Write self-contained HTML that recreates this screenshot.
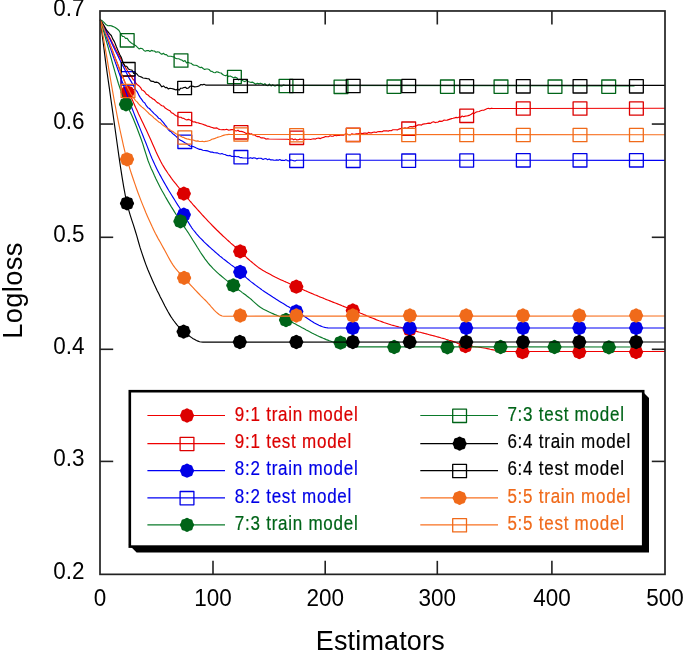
<!DOCTYPE html>
<html><head><meta charset="utf-8"><style>
html,body{margin:0;padding:0;background:#fff;overflow:hidden}
svg{display:block;filter:blur(0.4px);font-family:"Liberation Sans",sans-serif}
</style></head><body>
<svg width="685" height="653" viewBox="0 0 685 653">
<rect width="685" height="653" fill="#fff"/>
<g><path d="M100.3,19.8 L101.8,23.6 L103.4,27.5 L104.9,31.4 L106.4,35.3 L108.0,39.2 L109.5,43.1 L111.0,47.0 L112.6,51.0 L114.1,54.9 L115.6,58.8 L117.2,62.7 L118.7,66.6 L120.2,70.5 L121.7,74.3 L123.3,78.2 L124.8,81.9 L126.3,85.7 L127.9,89.4 L129.4,93.1 L130.9,96.7 L132.5,100.3 L134.0,103.8 L135.5,107.3 L137.1,110.6 L138.6,113.9 L140.2,117.2 L141.7,120.4 L143.2,123.6 L144.8,126.9 L146.3,130.1 L147.9,133.5 L149.5,137.0 L151.1,140.6 L152.7,144.2 L154.3,147.8 L155.8,151.3 L157.4,154.7 L159.0,158.0 L160.6,161.2 L162.2,164.2 L163.8,166.9 L165.3,169.4 L166.9,171.7 L168.4,174.0 L170.0,176.2 L171.5,178.3 L173.0,180.3 L174.6,182.3 L176.1,184.2 L177.6,186.1 L179.2,188.0 L180.7,189.9 L182.3,191.7 L183.8,193.6 L185.3,195.4 L186.8,197.2 L188.3,199.0 L189.8,200.8 L191.3,202.5 L192.8,204.3 L194.3,206.0 L195.8,207.7 L197.3,209.4 L198.8,211.0 L200.3,212.7 L201.8,214.4 L203.3,216.0 L204.8,217.6 L206.3,219.2 L207.8,220.8 L209.3,222.4 L210.8,223.9 L212.3,225.5 L213.8,227.0 L215.3,228.5 L216.8,230.0 L218.4,231.5 L219.9,233.0 L221.5,234.5 L223.0,236.0 L224.6,237.4 L226.2,238.9 L227.7,240.3 L229.3,241.7 L230.8,243.1 L232.4,244.5 L234.0,245.8 L235.5,247.2 L237.1,248.6 L238.6,250.1 L240.2,251.5 L241.8,253.0 L243.5,254.6 L245.1,256.1 L246.7,257.7 L248.4,259.2 L250.0,260.6 L251.7,262.0 L253.3,263.4 L255.0,264.8 L256.7,266.1 L258.3,267.4 L260.0,268.5 L261.5,269.5 L263.0,270.4 L264.5,271.3 L266.1,272.2 L267.6,273.0 L269.1,273.8 L270.6,274.6 L272.1,275.4 L273.6,276.2 L275.1,277.0 L276.6,277.7 L278.1,278.4 L279.7,279.2 L281.2,279.9 L282.7,280.6 L284.2,281.3 L285.7,281.9 L287.2,282.6 L288.7,283.3 L290.2,284.0 L291.8,284.7 L293.3,285.3 L294.8,286.0 L296.3,286.7 L297.8,287.4 L299.4,288.1 L300.9,288.8 L302.4,289.4 L303.9,290.1 L305.5,290.8 L307.0,291.4 L308.5,292.1 L310.0,292.7 L311.6,293.4 L313.1,294.0 L314.6,294.7 L316.2,295.3 L317.7,295.9 L319.2,296.6 L320.7,297.2 L322.3,297.8 L323.8,298.4 L325.3,299.1 L326.8,299.7 L328.4,300.3 L329.9,300.9 L331.4,301.5 L332.9,302.1 L334.5,302.7 L336.0,303.3 L337.5,303.9 L339.1,304.5 L340.6,305.1 L342.1,305.8 L343.6,306.4 L345.2,307.0 L346.7,307.6 L348.2,308.2 L349.7,308.8 L351.3,309.4 L352.8,310.0 L354.4,310.6 L355.9,311.3 L357.4,311.9 L359.0,312.5 L360.6,313.2 L362.1,313.8 L363.7,314.5 L365.2,315.1 L366.8,315.8 L368.3,316.4 L369.9,317.1 L371.4,317.7 L372.9,318.3 L374.5,318.9 L376.1,319.6 L377.6,320.2 L379.1,320.8 L380.7,321.3 L382.2,321.9 L383.8,322.5 L385.4,323.0 L386.9,323.5 L388.4,324.0 L390.0,324.5 L391.5,325.0 L393.0,325.4 L394.5,325.8 L396.1,326.2 L397.6,326.6 L399.1,327.0 L400.6,327.3 L402.1,327.7 L403.6,328.1 L405.2,328.4 L406.7,328.8 L408.2,329.2 L409.7,329.6 L411.2,330.0 L412.7,330.4 L414.2,330.8 L415.7,331.2 L417.3,331.6 L418.8,332.0 L420.3,332.3 L421.8,332.7 L423.3,333.1 L424.8,333.5 L426.3,333.9 L427.8,334.3 L429.3,334.7 L430.8,335.1 L432.4,335.5 L433.9,335.9 L435.4,336.3 L436.9,336.7 L438.4,337.1 L439.9,337.5 L441.4,338.0 L442.9,338.4 L444.4,338.8 L445.9,339.3 L447.5,339.7 L449.0,340.2 L450.5,340.6 L452.0,341.1 L453.5,341.6 L455.0,342.1 L456.5,342.8 L458.0,343.4 L459.5,344.1 L461.0,344.7 L462.5,345.3 L464.0,345.7 L465.5,346.0 L467.0,346.2 L468.5,346.3 L470.0,346.4 L471.6,346.5 L473.1,346.6 L474.6,346.7 L476.1,346.9 L477.6,347.0 L479.2,347.2 L480.8,347.4 L482.3,347.7 L483.9,348.0 L485.5,348.3 L487.1,348.6 L488.6,348.9 L490.2,349.3 L491.8,349.6 L493.4,349.9 L495.0,350.3 L496.5,350.6 L498.1,350.8 L499.7,351.0 L501.3,351.2 L502.8,351.4 L504.4,351.5 L506.0,351.5 L665.0,351.5" fill="none" stroke="#f00000" stroke-width="1.15" stroke-linejoin="round"/><polygon transform="translate(127.60,92.50)" points="7.15,0.00 6.67,1.33 5.96,2.47 5.65,3.78 5.06,5.06 3.78,5.65 2.47,5.96 1.33,6.67 0.00,7.15 -1.33,6.67 -2.47,5.96 -3.78,5.65 -5.06,5.06 -5.65,3.78 -5.96,2.47 -6.67,1.33 -7.15,0.00 -6.67,-1.33 -5.96,-2.47 -5.65,-3.78 -5.06,-5.06 -3.78,-5.65 -2.47,-5.96 -1.33,-6.67 -0.00,-7.15 1.33,-6.67 2.47,-5.96 3.78,-5.65 5.06,-5.06 5.65,-3.78 5.96,-2.47 6.67,-1.33" fill="#dc0000"/><polygon transform="translate(183.80,193.60)" points="7.15,0.00 6.67,1.33 5.96,2.47 5.65,3.78 5.06,5.06 3.78,5.65 2.47,5.96 1.33,6.67 0.00,7.15 -1.33,6.67 -2.47,5.96 -3.78,5.65 -5.06,5.06 -5.65,3.78 -5.96,2.47 -6.67,1.33 -7.15,0.00 -6.67,-1.33 -5.96,-2.47 -5.65,-3.78 -5.06,-5.06 -3.78,-5.65 -2.47,-5.96 -1.33,-6.67 -0.00,-7.15 1.33,-6.67 2.47,-5.96 3.78,-5.65 5.06,-5.06 5.65,-3.78 5.96,-2.47 6.67,-1.33" fill="#dc0000"/><polygon transform="translate(240.20,251.40)" points="7.15,0.00 6.67,1.33 5.96,2.47 5.65,3.78 5.06,5.06 3.78,5.65 2.47,5.96 1.33,6.67 0.00,7.15 -1.33,6.67 -2.47,5.96 -3.78,5.65 -5.06,5.06 -5.65,3.78 -5.96,2.47 -6.67,1.33 -7.15,0.00 -6.67,-1.33 -5.96,-2.47 -5.65,-3.78 -5.06,-5.06 -3.78,-5.65 -2.47,-5.96 -1.33,-6.67 -0.00,-7.15 1.33,-6.67 2.47,-5.96 3.78,-5.65 5.06,-5.06 5.65,-3.78 5.96,-2.47 6.67,-1.33" fill="#dc0000"/><polygon transform="translate(296.30,286.70)" points="7.15,0.00 6.67,1.33 5.96,2.47 5.65,3.78 5.06,5.06 3.78,5.65 2.47,5.96 1.33,6.67 0.00,7.15 -1.33,6.67 -2.47,5.96 -3.78,5.65 -5.06,5.06 -5.65,3.78 -5.96,2.47 -6.67,1.33 -7.15,0.00 -6.67,-1.33 -5.96,-2.47 -5.65,-3.78 -5.06,-5.06 -3.78,-5.65 -2.47,-5.96 -1.33,-6.67 -0.00,-7.15 1.33,-6.67 2.47,-5.96 3.78,-5.65 5.06,-5.06 5.65,-3.78 5.96,-2.47 6.67,-1.33" fill="#dc0000"/><polygon transform="translate(352.80,310.50)" points="7.15,0.00 6.67,1.33 5.96,2.47 5.65,3.78 5.06,5.06 3.78,5.65 2.47,5.96 1.33,6.67 0.00,7.15 -1.33,6.67 -2.47,5.96 -3.78,5.65 -5.06,5.06 -5.65,3.78 -5.96,2.47 -6.67,1.33 -7.15,0.00 -6.67,-1.33 -5.96,-2.47 -5.65,-3.78 -5.06,-5.06 -3.78,-5.65 -2.47,-5.96 -1.33,-6.67 -0.00,-7.15 1.33,-6.67 2.47,-5.96 3.78,-5.65 5.06,-5.06 5.65,-3.78 5.96,-2.47 6.67,-1.33" fill="#dc0000"/><polygon transform="translate(409.70,329.60)" points="7.15,0.00 6.67,1.33 5.96,2.47 5.65,3.78 5.06,5.06 3.78,5.65 2.47,5.96 1.33,6.67 0.00,7.15 -1.33,6.67 -2.47,5.96 -3.78,5.65 -5.06,5.06 -5.65,3.78 -5.96,2.47 -6.67,1.33 -7.15,0.00 -6.67,-1.33 -5.96,-2.47 -5.65,-3.78 -5.06,-5.06 -3.78,-5.65 -2.47,-5.96 -1.33,-6.67 -0.00,-7.15 1.33,-6.67 2.47,-5.96 3.78,-5.65 5.06,-5.06 5.65,-3.78 5.96,-2.47 6.67,-1.33" fill="#dc0000"/><polygon transform="translate(465.50,346.00)" points="7.15,0.00 6.67,1.33 5.96,2.47 5.65,3.78 5.06,5.06 3.78,5.65 2.47,5.96 1.33,6.67 0.00,7.15 -1.33,6.67 -2.47,5.96 -3.78,5.65 -5.06,5.06 -5.65,3.78 -5.96,2.47 -6.67,1.33 -7.15,0.00 -6.67,-1.33 -5.96,-2.47 -5.65,-3.78 -5.06,-5.06 -3.78,-5.65 -2.47,-5.96 -1.33,-6.67 -0.00,-7.15 1.33,-6.67 2.47,-5.96 3.78,-5.65 5.06,-5.06 5.65,-3.78 5.96,-2.47 6.67,-1.33" fill="#dc0000"/><polygon transform="translate(522.50,352.20)" points="7.15,0.00 6.67,1.33 5.96,2.47 5.65,3.78 5.06,5.06 3.78,5.65 2.47,5.96 1.33,6.67 0.00,7.15 -1.33,6.67 -2.47,5.96 -3.78,5.65 -5.06,5.06 -5.65,3.78 -5.96,2.47 -6.67,1.33 -7.15,0.00 -6.67,-1.33 -5.96,-2.47 -5.65,-3.78 -5.06,-5.06 -3.78,-5.65 -2.47,-5.96 -1.33,-6.67 -0.00,-7.15 1.33,-6.67 2.47,-5.96 3.78,-5.65 5.06,-5.06 5.65,-3.78 5.96,-2.47 6.67,-1.33" fill="#dc0000"/><polygon transform="translate(579.30,352.00)" points="7.15,0.00 6.67,1.33 5.96,2.47 5.65,3.78 5.06,5.06 3.78,5.65 2.47,5.96 1.33,6.67 0.00,7.15 -1.33,6.67 -2.47,5.96 -3.78,5.65 -5.06,5.06 -5.65,3.78 -5.96,2.47 -6.67,1.33 -7.15,0.00 -6.67,-1.33 -5.96,-2.47 -5.65,-3.78 -5.06,-5.06 -3.78,-5.65 -2.47,-5.96 -1.33,-6.67 -0.00,-7.15 1.33,-6.67 2.47,-5.96 3.78,-5.65 5.06,-5.06 5.65,-3.78 5.96,-2.47 6.67,-1.33" fill="#dc0000"/><polygon transform="translate(636.10,352.00)" points="7.15,0.00 6.67,1.33 5.96,2.47 5.65,3.78 5.06,5.06 3.78,5.65 2.47,5.96 1.33,6.67 0.00,7.15 -1.33,6.67 -2.47,5.96 -3.78,5.65 -5.06,5.06 -5.65,3.78 -5.96,2.47 -6.67,1.33 -7.15,0.00 -6.67,-1.33 -5.96,-2.47 -5.65,-3.78 -5.06,-5.06 -3.78,-5.65 -2.47,-5.96 -1.33,-6.67 -0.00,-7.15 1.33,-6.67 2.47,-5.96 3.78,-5.65 5.06,-5.06 5.65,-3.78 5.96,-2.47 6.67,-1.33" fill="#dc0000"/><path d="M100.3,19.8 L101.8,22.6 L103.4,25.4 L104.9,28.3 L106.5,31.2 L108.0,34.2 L109.6,37.2 L111.1,40.2 L112.6,43.3 L114.2,46.3 L115.7,49.3 L117.3,52.3 L118.8,55.2 L120.4,58.1 L121.9,61.0 L123.5,63.8 L125.0,66.5 L126.5,69.2 L128.1,71.7 L129.6,74.2 L131.2,76.2 L132.7,78.8 L134.3,80.7 L135.8,82.9 L137.3,84.8 L138.9,85.8 L140.4,87.3 L141.9,89.9 L143.4,90.6 L144.9,92.0 L146.5,94.3 L148.0,95.0 L149.6,96.7 L151.1,97.5 L152.7,98.9 L154.2,99.5 L155.8,101.2 L157.3,102.6 L158.9,103.3 L160.4,104.7 L162.0,105.7 L163.6,106.1 L165.2,108.1 L166.7,109.1 L168.3,109.9 L169.9,110.7 L171.5,112.8 L173.1,113.4 L174.6,114.7 L176.2,115.8 L177.8,116.4 L179.3,117.3 L180.9,117.2 L182.4,118.3 L183.9,118.4 L185.4,119.5 L186.9,119.9 L188.5,119.4 L190.0,120.0 L191.6,120.6 L193.2,122.0 L194.8,121.9 L196.4,122.6 L198.0,122.7 L199.6,123.4 L201.2,123.7 L202.8,124.2 L204.4,124.9 L206.0,125.4 L207.6,126.2 L209.2,126.4 L210.7,127.1 L212.3,127.5 L213.8,128.1 L215.4,128.1 L216.9,127.9 L218.5,129.1 L220.0,129.5 L221.6,129.7 L223.3,129.5 L224.9,129.8 L226.6,129.3 L228.3,130.1 L230.0,129.9 L231.7,129.6 L233.3,129.5 L235.0,130.6 L236.5,131.0 L238.0,130.2 L239.5,131.5 L241.0,131.4 L242.5,131.6 L244.0,132.2 L245.5,133.1 L247.0,133.6 L248.5,133.0 L250.0,134.1 L251.5,133.8 L253.0,135.0 L254.5,134.9 L256.0,136.0 L257.6,136.6 L259.3,136.6 L260.9,137.9 L262.6,137.7 L264.2,138.0 L265.9,139.1 L267.6,138.7 L269.2,139.0 L287.5,139.3 L289.0,139.5 L290.6,139.0 L292.1,138.8 L293.7,139.8 L295.2,139.1 L296.8,139.9 L298.3,139.8 L299.9,139.1 L301.4,139.2 L303.0,139.2 L304.5,139.4 L306.1,139.3 L307.6,139.2 L309.2,139.2 L310.7,139.5 L312.3,139.0 L313.8,138.8 L315.4,139.1 L317.1,138.3 L318.8,138.1 L320.4,138.6 L322.1,137.7 L323.7,137.4 L325.4,136.5 L327.0,136.7 L328.5,136.7 L330.1,135.8 L331.6,136.3 L333.1,136.2 L334.7,135.3 L336.2,135.8 L337.7,135.4 L339.3,135.5 L340.8,135.0 L342.3,135.2 L343.9,135.1 L345.4,134.1 L347.0,134.0 L348.5,134.7 L350.1,134.9 L351.6,133.9 L353.2,134.1 L354.8,134.2 L356.3,133.7 L357.9,133.7 L359.4,133.5 L361.0,133.4 L362.5,133.6 L364.0,133.1 L365.5,133.1 L367.0,133.4 L368.5,132.4 L370.0,132.9 L371.6,132.9 L373.1,132.3 L374.6,132.0 L376.1,132.5 L377.6,131.7 L379.1,131.5 L380.6,131.6 L382.1,131.7 L383.6,130.8 L385.2,130.9 L386.7,130.7 L388.2,131.1 L389.8,130.5 L391.3,130.7 L392.8,129.7 L394.4,129.7 L395.9,129.8 L397.4,129.9 L399.0,129.1 L400.5,128.6 L402.0,128.2 L403.5,128.4 L405.0,127.7 L406.5,128.2 L408.0,127.9 L409.5,126.8 L411.0,126.6 L412.5,126.9 L414.0,126.4 L415.5,126.3 L417.0,125.4 L418.5,124.9 L420.0,124.8 L421.5,125.1 L423.0,124.1 L424.5,123.9 L426.0,123.7 L427.5,123.4 L429.0,123.1 L430.5,123.4 L432.1,122.2 L433.6,121.8 L435.1,122.6 L436.6,122.2 L438.1,122.1 L439.6,121.1 L441.1,121.4 L442.6,121.1 L444.1,120.0 L445.6,120.3 L447.1,120.1 L448.6,119.6 L450.1,119.1 L451.6,118.6 L453.1,118.3 L454.6,117.9 L456.2,117.4 L457.7,117.7 L459.2,117.0 L460.7,117.3 L462.2,116.0 L463.7,116.7 L465.2,116.1 L466.7,116.0 L468.2,115.6 L469.8,115.1 L471.3,114.2 L472.9,113.0 L474.4,113.4 L476.0,112.1 L477.5,111.7 L479.1,111.5 L480.6,110.8 L482.2,110.2 L483.7,110.3 L485.3,109.5 L486.8,108.8 L488.4,108.3 L489.9,108.8 L491.5,108.2 L493.0,108.5 L665.0,108.2" fill="none" stroke="#f00000" stroke-width="1.15" stroke-linejoin="round"/><rect x="121.10" y="76.30" width="13.8" height="13.3" fill="none" stroke="#dc0000" stroke-width="1.3" stroke-linejoin="round"/><rect x="177.90" y="112.40" width="13.8" height="13.3" fill="none" stroke="#dc0000" stroke-width="1.3" stroke-linejoin="round"/><rect x="234.10" y="125.70" width="13.8" height="13.3" fill="none" stroke="#dc0000" stroke-width="1.3" stroke-linejoin="round"/><rect x="289.80" y="131.20" width="13.8" height="13.3" fill="none" stroke="#dc0000" stroke-width="1.3" stroke-linejoin="round"/><rect x="346.30" y="128.20" width="13.8" height="13.3" fill="none" stroke="#dc0000" stroke-width="1.3" stroke-linejoin="round"/><rect x="401.80" y="122.00" width="13.8" height="13.3" fill="none" stroke="#dc0000" stroke-width="1.3" stroke-linejoin="round"/><rect x="459.80" y="109.20" width="13.8" height="13.3" fill="none" stroke="#dc0000" stroke-width="1.3" stroke-linejoin="round"/><rect x="516.40" y="101.90" width="13.8" height="13.3" fill="none" stroke="#dc0000" stroke-width="1.3" stroke-linejoin="round"/><rect x="573.10" y="101.90" width="13.8" height="13.3" fill="none" stroke="#dc0000" stroke-width="1.3" stroke-linejoin="round"/><rect x="629.50" y="101.90" width="13.8" height="13.3" fill="none" stroke="#dc0000" stroke-width="1.3" stroke-linejoin="round"/><path d="M100.3,19.8 L101.8,24.1 L103.3,28.3 L104.9,32.6 L106.4,37.0 L107.9,41.3 L109.4,45.6 L111.0,49.9 L112.5,54.3 L114.0,58.6 L115.5,62.9 L117.1,67.2 L118.6,71.5 L120.1,75.8 L121.6,80.1 L123.2,84.3 L124.7,88.5 L126.2,92.7 L127.7,96.8 L129.3,100.9 L130.8,105.0 L132.3,109.0 L133.8,112.9 L135.3,116.7 L136.8,120.5 L138.3,124.2 L139.8,127.9 L141.3,131.6 L142.8,135.3 L144.3,139.1 L145.9,143.0 L147.4,146.9 L148.9,150.8 L150.4,154.6 L151.9,158.3 L153.5,161.8 L155.0,165.1 L156.5,168.2 L158.0,171.2 L159.5,174.1 L161.1,176.9 L162.6,179.7 L164.1,182.4 L165.6,185.0 L167.1,187.6 L168.6,190.2 L170.2,192.7 L171.7,195.2 L173.2,197.6 L174.7,200.0 L176.2,202.5 L177.7,204.9 L179.3,207.3 L180.8,209.8 L182.3,212.2 L183.8,214.7 L185.4,217.4 L187.0,220.1 L188.6,222.8 L190.2,225.4 L191.8,227.8 L193.4,230.0 L195.0,231.9 L196.5,233.8 L198.1,235.6 L199.6,237.3 L201.2,238.9 L202.8,240.5 L204.3,242.1 L205.9,243.6 L207.4,245.0 L209.0,246.5 L210.6,247.9 L212.1,249.3 L213.7,250.6 L215.2,252.0 L216.8,253.4 L218.4,254.8 L219.9,256.1 L221.5,257.3 L223.0,258.6 L224.6,259.8 L226.2,261.0 L227.7,262.2 L229.3,263.4 L230.8,264.6 L232.4,265.7 L234.0,266.9 L235.5,268.2 L237.1,269.4 L238.6,270.7 L240.2,272.0 L241.8,273.5 L243.5,275.0 L245.1,276.5 L246.7,278.1 L248.4,279.5 L250.0,280.9 L251.5,282.1 L253.1,283.3 L254.6,284.5 L256.2,285.6 L257.7,286.8 L259.3,287.9 L260.8,289.0 L262.3,290.1 L263.9,291.2 L265.4,292.2 L267.0,293.3 L268.5,294.3 L270.1,295.3 L271.6,296.3 L273.1,297.3 L274.7,298.3 L276.2,299.3 L277.8,300.3 L279.3,301.2 L280.9,302.2 L282.4,303.1 L284.0,304.0 L285.5,304.9 L287.0,305.9 L288.6,306.8 L290.1,307.7 L291.7,308.6 L293.2,309.4 L294.8,310.3 L296.3,311.2 L297.8,312.1 L299.3,313.0 L300.8,314.0 L302.3,315.0 L303.8,316.0 L305.3,317.0 L306.8,318.0 L308.3,319.0 L309.8,320.0 L311.3,321.0 L312.9,321.9 L314.4,322.9 L315.9,323.7 L317.4,324.5 L318.9,325.3 L320.4,325.9 L321.9,326.5 L323.4,327.0 L324.9,327.4 L326.4,327.7 L327.9,327.9 L329.4,328.0 L665.0,328.0" fill="none" stroke="#0000f5" stroke-width="1.15" stroke-linejoin="round"/><polygon transform="translate(183.80,214.70)" points="7.15,0.00 6.67,1.33 5.96,2.47 5.65,3.78 5.06,5.06 3.78,5.65 2.47,5.96 1.33,6.67 0.00,7.15 -1.33,6.67 -2.47,5.96 -3.78,5.65 -5.06,5.06 -5.65,3.78 -5.96,2.47 -6.67,1.33 -7.15,0.00 -6.67,-1.33 -5.96,-2.47 -5.65,-3.78 -5.06,-5.06 -3.78,-5.65 -2.47,-5.96 -1.33,-6.67 -0.00,-7.15 1.33,-6.67 2.47,-5.96 3.78,-5.65 5.06,-5.06 5.65,-3.78 5.96,-2.47 6.67,-1.33" fill="#0000e6"/><polygon transform="translate(240.20,272.00)" points="7.15,0.00 6.67,1.33 5.96,2.47 5.65,3.78 5.06,5.06 3.78,5.65 2.47,5.96 1.33,6.67 0.00,7.15 -1.33,6.67 -2.47,5.96 -3.78,5.65 -5.06,5.06 -5.65,3.78 -5.96,2.47 -6.67,1.33 -7.15,0.00 -6.67,-1.33 -5.96,-2.47 -5.65,-3.78 -5.06,-5.06 -3.78,-5.65 -2.47,-5.96 -1.33,-6.67 -0.00,-7.15 1.33,-6.67 2.47,-5.96 3.78,-5.65 5.06,-5.06 5.65,-3.78 5.96,-2.47 6.67,-1.33" fill="#0000e6"/><polygon transform="translate(296.30,311.50)" points="7.15,0.00 6.67,1.33 5.96,2.47 5.65,3.78 5.06,5.06 3.78,5.65 2.47,5.96 1.33,6.67 0.00,7.15 -1.33,6.67 -2.47,5.96 -3.78,5.65 -5.06,5.06 -5.65,3.78 -5.96,2.47 -6.67,1.33 -7.15,0.00 -6.67,-1.33 -5.96,-2.47 -5.65,-3.78 -5.06,-5.06 -3.78,-5.65 -2.47,-5.96 -1.33,-6.67 -0.00,-7.15 1.33,-6.67 2.47,-5.96 3.78,-5.65 5.06,-5.06 5.65,-3.78 5.96,-2.47 6.67,-1.33" fill="#0000e6"/><polygon transform="translate(352.80,328.00)" points="7.15,0.00 6.67,1.33 5.96,2.47 5.65,3.78 5.06,5.06 3.78,5.65 2.47,5.96 1.33,6.67 0.00,7.15 -1.33,6.67 -2.47,5.96 -3.78,5.65 -5.06,5.06 -5.65,3.78 -5.96,2.47 -6.67,1.33 -7.15,0.00 -6.67,-1.33 -5.96,-2.47 -5.65,-3.78 -5.06,-5.06 -3.78,-5.65 -2.47,-5.96 -1.33,-6.67 -0.00,-7.15 1.33,-6.67 2.47,-5.96 3.78,-5.65 5.06,-5.06 5.65,-3.78 5.96,-2.47 6.67,-1.33" fill="#0000e6"/><polygon transform="translate(409.70,328.00)" points="7.15,0.00 6.67,1.33 5.96,2.47 5.65,3.78 5.06,5.06 3.78,5.65 2.47,5.96 1.33,6.67 0.00,7.15 -1.33,6.67 -2.47,5.96 -3.78,5.65 -5.06,5.06 -5.65,3.78 -5.96,2.47 -6.67,1.33 -7.15,0.00 -6.67,-1.33 -5.96,-2.47 -5.65,-3.78 -5.06,-5.06 -3.78,-5.65 -2.47,-5.96 -1.33,-6.67 -0.00,-7.15 1.33,-6.67 2.47,-5.96 3.78,-5.65 5.06,-5.06 5.65,-3.78 5.96,-2.47 6.67,-1.33" fill="#0000e6"/><polygon transform="translate(466.20,328.00)" points="7.15,0.00 6.67,1.33 5.96,2.47 5.65,3.78 5.06,5.06 3.78,5.65 2.47,5.96 1.33,6.67 0.00,7.15 -1.33,6.67 -2.47,5.96 -3.78,5.65 -5.06,5.06 -5.65,3.78 -5.96,2.47 -6.67,1.33 -7.15,0.00 -6.67,-1.33 -5.96,-2.47 -5.65,-3.78 -5.06,-5.06 -3.78,-5.65 -2.47,-5.96 -1.33,-6.67 -0.00,-7.15 1.33,-6.67 2.47,-5.96 3.78,-5.65 5.06,-5.06 5.65,-3.78 5.96,-2.47 6.67,-1.33" fill="#0000e6"/><polygon transform="translate(523.00,328.00)" points="7.15,0.00 6.67,1.33 5.96,2.47 5.65,3.78 5.06,5.06 3.78,5.65 2.47,5.96 1.33,6.67 0.00,7.15 -1.33,6.67 -2.47,5.96 -3.78,5.65 -5.06,5.06 -5.65,3.78 -5.96,2.47 -6.67,1.33 -7.15,0.00 -6.67,-1.33 -5.96,-2.47 -5.65,-3.78 -5.06,-5.06 -3.78,-5.65 -2.47,-5.96 -1.33,-6.67 -0.00,-7.15 1.33,-6.67 2.47,-5.96 3.78,-5.65 5.06,-5.06 5.65,-3.78 5.96,-2.47 6.67,-1.33" fill="#0000e6"/><polygon transform="translate(579.30,328.00)" points="7.15,0.00 6.67,1.33 5.96,2.47 5.65,3.78 5.06,5.06 3.78,5.65 2.47,5.96 1.33,6.67 0.00,7.15 -1.33,6.67 -2.47,5.96 -3.78,5.65 -5.06,5.06 -5.65,3.78 -5.96,2.47 -6.67,1.33 -7.15,0.00 -6.67,-1.33 -5.96,-2.47 -5.65,-3.78 -5.06,-5.06 -3.78,-5.65 -2.47,-5.96 -1.33,-6.67 -0.00,-7.15 1.33,-6.67 2.47,-5.96 3.78,-5.65 5.06,-5.06 5.65,-3.78 5.96,-2.47 6.67,-1.33" fill="#0000e6"/><polygon transform="translate(636.10,328.00)" points="7.15,0.00 6.67,1.33 5.96,2.47 5.65,3.78 5.06,5.06 3.78,5.65 2.47,5.96 1.33,6.67 0.00,7.15 -1.33,6.67 -2.47,5.96 -3.78,5.65 -5.06,5.06 -5.65,3.78 -5.96,2.47 -6.67,1.33 -7.15,0.00 -6.67,-1.33 -5.96,-2.47 -5.65,-3.78 -5.06,-5.06 -3.78,-5.65 -2.47,-5.96 -1.33,-6.67 -0.00,-7.15 1.33,-6.67 2.47,-5.96 3.78,-5.65 5.06,-5.06 5.65,-3.78 5.96,-2.47 6.67,-1.33" fill="#0000e6"/><path d="M100.3,19.8 L101.8,22.9 L103.4,26.0 L104.9,29.1 L106.5,32.3 L108.0,35.4 L109.6,38.6 L111.1,41.8 L112.6,45.0 L114.2,48.2 L115.7,51.4 L117.3,54.6 L118.8,57.8 L120.4,60.9 L121.9,64.0 L123.5,67.1 L125.0,70.1 L126.5,73.1 L128.1,76.1 L129.6,78.9 L131.2,81.6 L132.7,84.2 L134.3,87.2 L135.8,90.2 L137.3,91.9 L138.8,95.1 L140.3,97.6 L141.8,99.7 L143.3,101.9 L144.8,103.0 L146.3,105.7 L147.9,107.7 L149.4,108.5 L151.0,110.3 L152.5,111.8 L154.1,113.6 L155.6,114.9 L157.2,116.4 L158.7,118.3 L160.3,119.0 L161.8,120.8 L163.4,122.7 L164.9,124.6 L166.4,126.4 L168.0,129.3 L169.5,130.9 L171.1,131.6 L172.6,133.6 L174.2,134.8 L175.8,136.1 L177.3,137.5 L178.9,139.1 L180.5,140.2 L182.1,141.1 L183.7,142.0 L185.3,143.1 L186.8,143.8 L188.4,145.1 L190.0,146.1 L191.6,146.3 L193.2,146.5 L194.8,147.2 L196.4,148.0 L198.0,148.7 L199.6,149.4 L201.2,149.4 L202.8,150.3 L204.4,150.5 L206.0,150.6 L207.6,150.9 L209.2,151.5 L210.8,152.1 L212.4,152.1 L214.0,152.7 L215.6,152.8 L217.1,152.8 L218.7,153.5 L220.3,154.0 L221.9,153.5 L223.5,154.2 L225.1,154.5 L226.8,155.4 L228.4,155.8 L230.1,155.4 L231.7,156.4 L233.4,156.5 L235.0,156.2 L236.7,156.7 L238.3,156.5 L240.0,157.6 L241.5,157.6 L243.1,158.0 L244.6,158.0 L246.2,158.0 L247.7,158.2 L249.2,158.1 L250.8,157.7 L252.3,158.4 L253.8,157.8 L255.4,158.1 L256.9,158.9 L258.5,158.2 L260.0,158.3 L261.5,158.4 L263.1,159.4 L264.6,158.7 L266.1,158.6 L267.6,159.7 L269.1,158.9 L270.7,159.9 L272.2,159.8 L273.7,160.1 L275.2,160.3 L276.8,159.9 L278.3,160.3 L279.8,159.5 L281.4,160.4 L282.9,160.2 L284.4,160.5 L285.9,159.8 L287.5,160.6 L289.0,160.9 L290.5,159.9 L292.0,160.2 L293.6,160.6 L295.1,160.9 L296.6,160.2 L665.0,160.3" fill="none" stroke="#0000f5" stroke-width="1.15" stroke-linejoin="round"/><rect x="121.10" y="71.70" width="13.8" height="13.3" fill="none" stroke="#0000e6" stroke-width="1.3" stroke-linejoin="round"/><rect x="177.90" y="135.20" width="13.8" height="13.3" fill="none" stroke="#0000e6" stroke-width="1.3" stroke-linejoin="round"/><rect x="234.00" y="150.50" width="13.8" height="13.3" fill="none" stroke="#0000e6" stroke-width="1.3" stroke-linejoin="round"/><rect x="289.70" y="154.20" width="13.8" height="13.3" fill="none" stroke="#0000e6" stroke-width="1.3" stroke-linejoin="round"/><rect x="346.30" y="154.20" width="13.8" height="13.3" fill="none" stroke="#0000e6" stroke-width="1.3" stroke-linejoin="round"/><rect x="401.80" y="154.00" width="13.8" height="13.3" fill="none" stroke="#0000e6" stroke-width="1.3" stroke-linejoin="round"/><rect x="459.80" y="153.80" width="13.8" height="13.3" fill="none" stroke="#0000e6" stroke-width="1.3" stroke-linejoin="round"/><rect x="516.40" y="153.70" width="13.8" height="13.3" fill="none" stroke="#0000e6" stroke-width="1.3" stroke-linejoin="round"/><rect x="573.10" y="153.70" width="13.8" height="13.3" fill="none" stroke="#0000e6" stroke-width="1.3" stroke-linejoin="round"/><rect x="629.50" y="153.70" width="13.8" height="13.3" fill="none" stroke="#0000e6" stroke-width="1.3" stroke-linejoin="round"/><path d="M100.3,19.8 L101.8,24.9 L103.3,30.1 L104.8,35.4 L106.3,40.8 L107.9,46.3 L109.4,51.8 L110.9,57.3 L112.4,62.8 L113.9,68.2 L115.4,73.4 L116.9,78.5 L118.4,83.5 L120.0,88.2 L121.5,92.7 L123.0,96.9 L124.5,100.8 L126.0,104.3 L127.5,107.2 L129.0,109.8 L130.5,112.6 L132.0,115.8 L133.5,119.3 L135.0,123.0 L136.5,126.8 L138.0,130.7 L139.5,134.7 L141.0,138.8 L142.8,143.9 L144.5,149.5 L146.3,155.1 L148.0,160.5 L149.8,165.1 L151.3,168.7 L152.9,172.1 L154.4,175.5 L155.9,178.7 L157.5,181.9 L159.0,184.9 L160.5,187.9 L162.0,190.7 L163.6,193.5 L165.1,196.3 L166.6,198.9 L168.2,201.6 L169.7,204.1 L171.2,206.6 L172.8,209.1 L174.3,211.6 L175.8,214.0 L177.3,216.5 L178.9,218.9 L180.4,221.3 L181.9,223.6 L183.4,225.7 L184.9,227.8 L186.4,230.0 L188.0,232.3 L189.5,234.7 L191.1,237.2 L192.6,239.7 L194.2,242.2 L195.8,244.8 L197.3,247.3 L198.9,249.8 L200.4,252.2 L202.0,254.6 L203.6,256.9 L205.1,259.1 L206.7,261.2 L208.2,263.2 L209.8,265.0 L211.4,266.7 L212.9,268.3 L214.5,269.9 L216.0,271.3 L217.6,272.8 L219.1,274.2 L220.7,275.5 L222.2,276.8 L223.8,278.1 L225.3,279.4 L226.9,280.6 L228.4,281.9 L230.0,283.1 L231.5,284.3 L233.1,285.6 L234.6,286.8 L236.2,288.0 L237.7,289.2 L239.2,290.3 L240.8,291.4 L242.3,292.6 L243.9,293.7 L245.4,294.8 L246.9,296.0 L248.5,297.2 L250.0,298.4 L251.7,299.8 L253.3,301.4 L255.0,302.9 L256.7,304.4 L258.3,305.8 L260.0,307.0 L261.5,308.0 L263.1,308.9 L264.6,309.7 L266.2,310.5 L267.7,311.3 L269.2,312.0 L270.8,312.7 L272.3,313.4 L273.9,314.1 L275.4,314.7 L277.0,315.4 L278.5,316.0 L280.0,316.7 L281.6,317.3 L283.1,318.0 L284.7,318.7 L286.2,319.4 L287.7,320.1 L289.3,320.9 L290.8,321.7 L292.4,322.5 L293.9,323.3 L295.5,324.1 L297.0,324.9 L298.5,325.7 L300.1,326.6 L301.6,327.4 L303.2,328.2 L304.7,329.1 L306.2,329.9 L307.8,330.7 L309.3,331.6 L310.9,332.4 L312.4,333.2 L314.0,334.0 L315.5,334.7 L317.0,335.5 L318.6,336.2 L320.1,336.9 L321.7,337.6 L323.2,338.3 L324.7,338.9 L326.3,339.6 L327.8,340.1 L329.4,340.7 L330.9,341.2 L332.5,341.7 L334.0,342.1 L335.6,342.5 L337.1,343.0 L338.7,343.4 L340.3,343.8 L341.8,344.3 L343.4,344.7 L345.0,345.0 L346.5,345.4 L348.1,345.7 L349.7,346.0 L351.2,346.3 L352.8,346.5 L354.4,346.7 L355.9,346.8 L357.5,346.8 L634.5,347.0" fill="none" stroke="#0a7a2a" stroke-width="1.15" stroke-linejoin="round"/><polygon transform="translate(126.00,104.30)" points="7.15,0.00 6.67,1.33 5.96,2.47 5.65,3.78 5.06,5.06 3.78,5.65 2.47,5.96 1.33,6.67 0.00,7.15 -1.33,6.67 -2.47,5.96 -3.78,5.65 -5.06,5.06 -5.65,3.78 -5.96,2.47 -6.67,1.33 -7.15,0.00 -6.67,-1.33 -5.96,-2.47 -5.65,-3.78 -5.06,-5.06 -3.78,-5.65 -2.47,-5.96 -1.33,-6.67 -0.00,-7.15 1.33,-6.67 2.47,-5.96 3.78,-5.65 5.06,-5.06 5.65,-3.78 5.96,-2.47 6.67,-1.33" fill="#006418"/><polygon transform="translate(180.40,221.30)" points="7.15,0.00 6.67,1.33 5.96,2.47 5.65,3.78 5.06,5.06 3.78,5.65 2.47,5.96 1.33,6.67 0.00,7.15 -1.33,6.67 -2.47,5.96 -3.78,5.65 -5.06,5.06 -5.65,3.78 -5.96,2.47 -6.67,1.33 -7.15,0.00 -6.67,-1.33 -5.96,-2.47 -5.65,-3.78 -5.06,-5.06 -3.78,-5.65 -2.47,-5.96 -1.33,-6.67 -0.00,-7.15 1.33,-6.67 2.47,-5.96 3.78,-5.65 5.06,-5.06 5.65,-3.78 5.96,-2.47 6.67,-1.33" fill="#006418"/><polygon transform="translate(233.30,285.40)" points="7.15,0.00 6.67,1.33 5.96,2.47 5.65,3.78 5.06,5.06 3.78,5.65 2.47,5.96 1.33,6.67 0.00,7.15 -1.33,6.67 -2.47,5.96 -3.78,5.65 -5.06,5.06 -5.65,3.78 -5.96,2.47 -6.67,1.33 -7.15,0.00 -6.67,-1.33 -5.96,-2.47 -5.65,-3.78 -5.06,-5.06 -3.78,-5.65 -2.47,-5.96 -1.33,-6.67 -0.00,-7.15 1.33,-6.67 2.47,-5.96 3.78,-5.65 5.06,-5.06 5.65,-3.78 5.96,-2.47 6.67,-1.33" fill="#006418"/><polygon transform="translate(286.00,320.00)" points="7.15,0.00 6.67,1.33 5.96,2.47 5.65,3.78 5.06,5.06 3.78,5.65 2.47,5.96 1.33,6.67 0.00,7.15 -1.33,6.67 -2.47,5.96 -3.78,5.65 -5.06,5.06 -5.65,3.78 -5.96,2.47 -6.67,1.33 -7.15,0.00 -6.67,-1.33 -5.96,-2.47 -5.65,-3.78 -5.06,-5.06 -3.78,-5.65 -2.47,-5.96 -1.33,-6.67 -0.00,-7.15 1.33,-6.67 2.47,-5.96 3.78,-5.65 5.06,-5.06 5.65,-3.78 5.96,-2.47 6.67,-1.33" fill="#006418"/><polygon transform="translate(340.50,342.70)" points="7.15,0.00 6.67,1.33 5.96,2.47 5.65,3.78 5.06,5.06 3.78,5.65 2.47,5.96 1.33,6.67 0.00,7.15 -1.33,6.67 -2.47,5.96 -3.78,5.65 -5.06,5.06 -5.65,3.78 -5.96,2.47 -6.67,1.33 -7.15,0.00 -6.67,-1.33 -5.96,-2.47 -5.65,-3.78 -5.06,-5.06 -3.78,-5.65 -2.47,-5.96 -1.33,-6.67 -0.00,-7.15 1.33,-6.67 2.47,-5.96 3.78,-5.65 5.06,-5.06 5.65,-3.78 5.96,-2.47 6.67,-1.33" fill="#006418"/><polygon transform="translate(394.20,347.00)" points="7.15,0.00 6.67,1.33 5.96,2.47 5.65,3.78 5.06,5.06 3.78,5.65 2.47,5.96 1.33,6.67 0.00,7.15 -1.33,6.67 -2.47,5.96 -3.78,5.65 -5.06,5.06 -5.65,3.78 -5.96,2.47 -6.67,1.33 -7.15,0.00 -6.67,-1.33 -5.96,-2.47 -5.65,-3.78 -5.06,-5.06 -3.78,-5.65 -2.47,-5.96 -1.33,-6.67 -0.00,-7.15 1.33,-6.67 2.47,-5.96 3.78,-5.65 5.06,-5.06 5.65,-3.78 5.96,-2.47 6.67,-1.33" fill="#006418"/><polygon transform="translate(447.40,347.30)" points="7.15,0.00 6.67,1.33 5.96,2.47 5.65,3.78 5.06,5.06 3.78,5.65 2.47,5.96 1.33,6.67 0.00,7.15 -1.33,6.67 -2.47,5.96 -3.78,5.65 -5.06,5.06 -5.65,3.78 -5.96,2.47 -6.67,1.33 -7.15,0.00 -6.67,-1.33 -5.96,-2.47 -5.65,-3.78 -5.06,-5.06 -3.78,-5.65 -2.47,-5.96 -1.33,-6.67 -0.00,-7.15 1.33,-6.67 2.47,-5.96 3.78,-5.65 5.06,-5.06 5.65,-3.78 5.96,-2.47 6.67,-1.33" fill="#006418"/><polygon transform="translate(500.60,347.00)" points="7.15,0.00 6.67,1.33 5.96,2.47 5.65,3.78 5.06,5.06 3.78,5.65 2.47,5.96 1.33,6.67 0.00,7.15 -1.33,6.67 -2.47,5.96 -3.78,5.65 -5.06,5.06 -5.65,3.78 -5.96,2.47 -6.67,1.33 -7.15,0.00 -6.67,-1.33 -5.96,-2.47 -5.65,-3.78 -5.06,-5.06 -3.78,-5.65 -2.47,-5.96 -1.33,-6.67 -0.00,-7.15 1.33,-6.67 2.47,-5.96 3.78,-5.65 5.06,-5.06 5.65,-3.78 5.96,-2.47 6.67,-1.33" fill="#006418"/><polygon transform="translate(554.50,347.00)" points="7.15,0.00 6.67,1.33 5.96,2.47 5.65,3.78 5.06,5.06 3.78,5.65 2.47,5.96 1.33,6.67 0.00,7.15 -1.33,6.67 -2.47,5.96 -3.78,5.65 -5.06,5.06 -5.65,3.78 -5.96,2.47 -6.67,1.33 -7.15,0.00 -6.67,-1.33 -5.96,-2.47 -5.65,-3.78 -5.06,-5.06 -3.78,-5.65 -2.47,-5.96 -1.33,-6.67 -0.00,-7.15 1.33,-6.67 2.47,-5.96 3.78,-5.65 5.06,-5.06 5.65,-3.78 5.96,-2.47 6.67,-1.33" fill="#006418"/><polygon transform="translate(608.90,347.30)" points="7.15,0.00 6.67,1.33 5.96,2.47 5.65,3.78 5.06,5.06 3.78,5.65 2.47,5.96 1.33,6.67 0.00,7.15 -1.33,6.67 -2.47,5.96 -3.78,5.65 -5.06,5.06 -5.65,3.78 -5.96,2.47 -6.67,1.33 -7.15,0.00 -6.67,-1.33 -5.96,-2.47 -5.65,-3.78 -5.06,-5.06 -3.78,-5.65 -2.47,-5.96 -1.33,-6.67 -0.00,-7.15 1.33,-6.67 2.47,-5.96 3.78,-5.65 5.06,-5.06 5.65,-3.78 5.96,-2.47 6.67,-1.33" fill="#006418"/><path d="M100.3,19.8 L102.3,20.8 L104.2,22.7 L106.2,24.8 L108.0,25.7 L109.7,25.5 L111.5,25.9 L113.2,26.6 L115.2,27.5 L117.3,29.0 L119.0,30.5 L120.8,33.9 L122.4,36.4 L124.0,36.5 L125.6,38.4 L127.2,38.4 L128.9,40.9 L130.7,42.5 L132.4,43.7 L134.2,44.6 L135.8,45.7 L137.5,47.3 L139.1,48.9 L140.8,48.2 L142.4,48.7 L143.9,50.5 L145.4,51.2 L146.9,50.5 L148.4,50.6 L149.9,51.4 L151.4,50.4 L152.9,50.9 L154.4,51.0 L155.9,52.2 L157.4,51.9 L158.9,52.0 L160.4,53.4 L161.9,54.3 L163.4,53.3 L164.9,54.6 L166.4,54.6 L167.9,56.2 L169.5,56.2 L171.0,56.2 L172.5,56.7 L174.0,56.9 L175.6,58.4 L177.1,58.7 L178.7,58.7 L180.3,59.6 L181.8,60.0 L183.4,61.4 L185.0,60.5 L186.5,62.9 L188.1,62.3 L189.6,63.0 L191.1,63.3 L192.6,64.6 L194.1,65.2 L195.6,65.2 L197.1,65.6 L198.6,66.7 L200.1,67.6 L201.6,67.2 L203.1,68.5 L204.6,69.5 L206.1,69.0 L207.6,69.0 L209.1,69.5 L210.6,71.1 L212.1,71.4 L213.6,72.5 L215.1,72.7 L216.6,71.8 L218.1,72.1 L219.6,72.7 L221.1,73.0 L222.6,74.5 L224.1,75.3 L225.6,75.8 L227.1,74.9 L228.6,76.6 L230.1,75.9 L231.8,76.7 L233.4,77.9 L235.1,77.1 L236.7,77.7 L238.4,80.0 L240.0,79.3 L241.7,80.0 L243.3,81.0 L245.0,81.6 L246.5,80.4 L248.1,81.5 L249.6,82.0 L251.1,82.4 L252.7,82.1 L254.2,83.2 L255.7,84.3 L257.3,83.3 L258.8,83.9 L260.3,83.2 L261.9,83.7 L263.4,84.8 L264.9,83.7 L266.5,85.5 L268.0,85.7 L269.5,84.0 L271.1,86.0 L272.6,84.8 L274.2,85.8 L275.7,85.8 L277.3,84.9 L278.8,85.8 L280.4,85.8 L281.9,86.1 L283.5,85.0 L285.0,85.5 L634.5,85.8" fill="none" stroke="#0a7a2a" stroke-width="1.15" stroke-linejoin="round"/><rect x="120.30" y="33.70" width="13.8" height="13.3" fill="none" stroke="#006418" stroke-width="1.3" stroke-linejoin="round"/><rect x="174.10" y="53.90" width="13.8" height="13.3" fill="none" stroke="#006418" stroke-width="1.3" stroke-linejoin="round"/><rect x="227.50" y="70.30" width="13.8" height="13.3" fill="none" stroke="#006418" stroke-width="1.3" stroke-linejoin="round"/><rect x="279.10" y="79.40" width="13.8" height="13.3" fill="none" stroke="#006418" stroke-width="1.3" stroke-linejoin="round"/><rect x="334.10" y="80.20" width="13.8" height="13.3" fill="none" stroke="#006418" stroke-width="1.3" stroke-linejoin="round"/><rect x="387.10" y="80.00" width="13.8" height="13.3" fill="none" stroke="#006418" stroke-width="1.3" stroke-linejoin="round"/><rect x="440.50" y="80.00" width="13.8" height="13.3" fill="none" stroke="#006418" stroke-width="1.3" stroke-linejoin="round"/><rect x="494.10" y="80.00" width="13.8" height="13.3" fill="none" stroke="#006418" stroke-width="1.3" stroke-linejoin="round"/><rect x="548.10" y="80.00" width="13.8" height="13.3" fill="none" stroke="#006418" stroke-width="1.3" stroke-linejoin="round"/><rect x="601.80" y="80.00" width="13.8" height="13.3" fill="none" stroke="#006418" stroke-width="1.3" stroke-linejoin="round"/><path d="M100.3,19.8 L102.0,33.5 L103.8,47.3 L105.5,60.9 L107.3,74.0 L109.2,87.2 L111.0,100.0 L112.6,111.1 L114.2,122.5 L115.8,134.0 L117.4,145.5 L119.0,156.8 L120.6,167.7 L122.2,177.9 L123.8,187.4 L125.4,196.0 L127.0,203.4 L128.6,209.7 L130.2,215.1 L131.8,220.1 L133.4,224.9 L135.0,230.0 L136.8,235.9 L138.5,242.0 L140.2,247.9 L142.0,253.4 L144.0,259.2 L145.9,264.6 L147.9,269.7 L149.5,273.5 L151.0,277.1 L152.6,280.7 L154.1,284.1 L155.7,287.4 L157.2,290.7 L158.8,293.8 L160.3,296.9 L161.9,300.0 L163.4,302.9 L164.9,305.9 L166.4,308.7 L167.9,311.5 L169.4,314.1 L170.9,316.6 L172.4,318.8 L174.0,321.0 L175.6,323.1 L177.2,325.1 L178.8,327.0 L180.4,328.7 L182.0,330.3 L183.6,331.6 L185.2,332.8 L186.8,334.1 L188.4,335.3 L190.0,336.5 L191.6,337.6 L193.2,338.7 L194.8,339.6 L196.4,340.5 L198.0,341.1 L199.6,341.7 L201.2,342.0 L202.8,342.1 L665.0,342.0" fill="none" stroke="#000000" stroke-width="1.15" stroke-linejoin="round"/><polygon transform="translate(127.00,203.40)" points="7.15,0.00 6.67,1.33 5.96,2.47 5.65,3.78 5.06,5.06 3.78,5.65 2.47,5.96 1.33,6.67 0.00,7.15 -1.33,6.67 -2.47,5.96 -3.78,5.65 -5.06,5.06 -5.65,3.78 -5.96,2.47 -6.67,1.33 -7.15,0.00 -6.67,-1.33 -5.96,-2.47 -5.65,-3.78 -5.06,-5.06 -3.78,-5.65 -2.47,-5.96 -1.33,-6.67 -0.00,-7.15 1.33,-6.67 2.47,-5.96 3.78,-5.65 5.06,-5.06 5.65,-3.78 5.96,-2.47 6.67,-1.33" fill="#000000"/><polygon transform="translate(183.60,331.60)" points="7.15,0.00 6.67,1.33 5.96,2.47 5.65,3.78 5.06,5.06 3.78,5.65 2.47,5.96 1.33,6.67 0.00,7.15 -1.33,6.67 -2.47,5.96 -3.78,5.65 -5.06,5.06 -5.65,3.78 -5.96,2.47 -6.67,1.33 -7.15,0.00 -6.67,-1.33 -5.96,-2.47 -5.65,-3.78 -5.06,-5.06 -3.78,-5.65 -2.47,-5.96 -1.33,-6.67 -0.00,-7.15 1.33,-6.67 2.47,-5.96 3.78,-5.65 5.06,-5.06 5.65,-3.78 5.96,-2.47 6.67,-1.33" fill="#000000"/><polygon transform="translate(239.80,342.00)" points="7.15,0.00 6.67,1.33 5.96,2.47 5.65,3.78 5.06,5.06 3.78,5.65 2.47,5.96 1.33,6.67 0.00,7.15 -1.33,6.67 -2.47,5.96 -3.78,5.65 -5.06,5.06 -5.65,3.78 -5.96,2.47 -6.67,1.33 -7.15,0.00 -6.67,-1.33 -5.96,-2.47 -5.65,-3.78 -5.06,-5.06 -3.78,-5.65 -2.47,-5.96 -1.33,-6.67 -0.00,-7.15 1.33,-6.67 2.47,-5.96 3.78,-5.65 5.06,-5.06 5.65,-3.78 5.96,-2.47 6.67,-1.33" fill="#000000"/><polygon transform="translate(296.30,342.00)" points="7.15,0.00 6.67,1.33 5.96,2.47 5.65,3.78 5.06,5.06 3.78,5.65 2.47,5.96 1.33,6.67 0.00,7.15 -1.33,6.67 -2.47,5.96 -3.78,5.65 -5.06,5.06 -5.65,3.78 -5.96,2.47 -6.67,1.33 -7.15,0.00 -6.67,-1.33 -5.96,-2.47 -5.65,-3.78 -5.06,-5.06 -3.78,-5.65 -2.47,-5.96 -1.33,-6.67 -0.00,-7.15 1.33,-6.67 2.47,-5.96 3.78,-5.65 5.06,-5.06 5.65,-3.78 5.96,-2.47 6.67,-1.33" fill="#000000"/><polygon transform="translate(352.80,342.00)" points="7.15,0.00 6.67,1.33 5.96,2.47 5.65,3.78 5.06,5.06 3.78,5.65 2.47,5.96 1.33,6.67 0.00,7.15 -1.33,6.67 -2.47,5.96 -3.78,5.65 -5.06,5.06 -5.65,3.78 -5.96,2.47 -6.67,1.33 -7.15,0.00 -6.67,-1.33 -5.96,-2.47 -5.65,-3.78 -5.06,-5.06 -3.78,-5.65 -2.47,-5.96 -1.33,-6.67 -0.00,-7.15 1.33,-6.67 2.47,-5.96 3.78,-5.65 5.06,-5.06 5.65,-3.78 5.96,-2.47 6.67,-1.33" fill="#000000"/><polygon transform="translate(409.70,342.00)" points="7.15,0.00 6.67,1.33 5.96,2.47 5.65,3.78 5.06,5.06 3.78,5.65 2.47,5.96 1.33,6.67 0.00,7.15 -1.33,6.67 -2.47,5.96 -3.78,5.65 -5.06,5.06 -5.65,3.78 -5.96,2.47 -6.67,1.33 -7.15,0.00 -6.67,-1.33 -5.96,-2.47 -5.65,-3.78 -5.06,-5.06 -3.78,-5.65 -2.47,-5.96 -1.33,-6.67 -0.00,-7.15 1.33,-6.67 2.47,-5.96 3.78,-5.65 5.06,-5.06 5.65,-3.78 5.96,-2.47 6.67,-1.33" fill="#000000"/><polygon transform="translate(466.20,342.00)" points="7.15,0.00 6.67,1.33 5.96,2.47 5.65,3.78 5.06,5.06 3.78,5.65 2.47,5.96 1.33,6.67 0.00,7.15 -1.33,6.67 -2.47,5.96 -3.78,5.65 -5.06,5.06 -5.65,3.78 -5.96,2.47 -6.67,1.33 -7.15,0.00 -6.67,-1.33 -5.96,-2.47 -5.65,-3.78 -5.06,-5.06 -3.78,-5.65 -2.47,-5.96 -1.33,-6.67 -0.00,-7.15 1.33,-6.67 2.47,-5.96 3.78,-5.65 5.06,-5.06 5.65,-3.78 5.96,-2.47 6.67,-1.33" fill="#000000"/><polygon transform="translate(523.00,342.00)" points="7.15,0.00 6.67,1.33 5.96,2.47 5.65,3.78 5.06,5.06 3.78,5.65 2.47,5.96 1.33,6.67 0.00,7.15 -1.33,6.67 -2.47,5.96 -3.78,5.65 -5.06,5.06 -5.65,3.78 -5.96,2.47 -6.67,1.33 -7.15,0.00 -6.67,-1.33 -5.96,-2.47 -5.65,-3.78 -5.06,-5.06 -3.78,-5.65 -2.47,-5.96 -1.33,-6.67 -0.00,-7.15 1.33,-6.67 2.47,-5.96 3.78,-5.65 5.06,-5.06 5.65,-3.78 5.96,-2.47 6.67,-1.33" fill="#000000"/><polygon transform="translate(579.30,342.00)" points="7.15,0.00 6.67,1.33 5.96,2.47 5.65,3.78 5.06,5.06 3.78,5.65 2.47,5.96 1.33,6.67 0.00,7.15 -1.33,6.67 -2.47,5.96 -3.78,5.65 -5.06,5.06 -5.65,3.78 -5.96,2.47 -6.67,1.33 -7.15,0.00 -6.67,-1.33 -5.96,-2.47 -5.65,-3.78 -5.06,-5.06 -3.78,-5.65 -2.47,-5.96 -1.33,-6.67 -0.00,-7.15 1.33,-6.67 2.47,-5.96 3.78,-5.65 5.06,-5.06 5.65,-3.78 5.96,-2.47 6.67,-1.33" fill="#000000"/><polygon transform="translate(636.10,342.00)" points="7.15,0.00 6.67,1.33 5.96,2.47 5.65,3.78 5.06,5.06 3.78,5.65 2.47,5.96 1.33,6.67 0.00,7.15 -1.33,6.67 -2.47,5.96 -3.78,5.65 -5.06,5.06 -5.65,3.78 -5.96,2.47 -6.67,1.33 -7.15,0.00 -6.67,-1.33 -5.96,-2.47 -5.65,-3.78 -5.06,-5.06 -3.78,-5.65 -2.47,-5.96 -1.33,-6.67 -0.00,-7.15 1.33,-6.67 2.47,-5.96 3.78,-5.65 5.06,-5.06 5.65,-3.78 5.96,-2.47 6.67,-1.33" fill="#000000"/><path d="M100.3,19.8 L101.9,22.2 L103.4,24.5 L105.0,27.4 L106.6,30.2 L108.1,31.9 L109.7,34.0 L111.3,35.5 L112.8,39.1 L114.4,41.6 L116.2,46.3 L117.9,50.4 L119.7,54.5 L121.4,57.6 L123.2,63.0 L125.0,66.1 L126.7,66.2 L128.4,68.9 L130.2,69.8 L131.9,70.0 L133.7,73.5 L135.5,72.8 L137.0,74.2 L138.5,76.0 L140.0,76.5 L141.5,77.1 L143.0,78.0 L144.5,78.2 L146.0,78.4 L147.5,78.7 L149.0,78.9 L150.5,80.9 L152.0,81.4 L153.5,81.4 L155.0,82.4 L156.5,82.1 L158.3,82.8 L160.0,84.3 L161.8,86.8 L163.5,85.9 L165.3,87.7 L166.8,87.4 L168.4,89.0 L169.9,88.3 L171.4,88.5 L173.0,88.9 L174.5,89.4 L176.1,90.0 L177.6,89.0 L179.2,90.2 L180.7,88.2 L182.3,88.3 L183.8,87.6 L185.4,87.2 L186.9,88.5 L188.5,88.0 L190.0,86.3 L191.6,86.1 L193.2,86.4 L194.7,86.9 L196.3,86.8 L197.8,86.4 L199.4,85.7 L200.9,84.5 L202.5,84.9 L204.0,84.3 L205.6,85.1 L665.0,85.3" fill="none" stroke="#000000" stroke-width="1.15" stroke-linejoin="round"/><rect x="121.30" y="62.50" width="13.8" height="13.3" fill="none" stroke="#000000" stroke-width="1.3" stroke-linejoin="round"/><rect x="177.70" y="81.40" width="13.8" height="13.3" fill="none" stroke="#000000" stroke-width="1.3" stroke-linejoin="round"/><rect x="233.60" y="79.40" width="13.8" height="13.3" fill="none" stroke="#000000" stroke-width="1.3" stroke-linejoin="round"/><rect x="289.70" y="79.40" width="13.8" height="13.3" fill="none" stroke="#000000" stroke-width="1.3" stroke-linejoin="round"/><rect x="346.30" y="79.40" width="13.8" height="13.3" fill="none" stroke="#000000" stroke-width="1.3" stroke-linejoin="round"/><rect x="401.80" y="79.40" width="13.8" height="13.3" fill="none" stroke="#000000" stroke-width="1.3" stroke-linejoin="round"/><rect x="459.80" y="79.70" width="13.8" height="13.3" fill="none" stroke="#000000" stroke-width="1.3" stroke-linejoin="round"/><rect x="516.40" y="79.70" width="13.8" height="13.3" fill="none" stroke="#000000" stroke-width="1.3" stroke-linejoin="round"/><rect x="573.10" y="79.70" width="13.8" height="13.3" fill="none" stroke="#000000" stroke-width="1.3" stroke-linejoin="round"/><rect x="629.50" y="79.70" width="13.8" height="13.3" fill="none" stroke="#000000" stroke-width="1.3" stroke-linejoin="round"/><path d="M100.3,19.8 L101.8,28.4 L103.3,37.1 L104.8,46.0 L106.4,54.9 L107.9,63.8 L109.4,72.7 L110.9,81.5 L112.4,90.2 L113.9,98.7 L115.5,107.0 L117.0,115.0 L118.5,122.7 L120.0,130.0 L121.8,138.1 L123.5,145.8 L125.2,152.9 L127.0,159.3 L128.6,164.5 L130.1,169.6 L131.7,174.5 L133.3,179.3 L134.9,183.9 L136.4,188.3 L138.0,192.7 L139.6,196.9 L141.1,200.9 L142.7,204.9 L144.3,208.8 L145.8,212.5 L147.4,216.2 L149.0,219.7 L150.6,223.2 L152.1,226.6 L153.7,230.0 L155.3,233.3 L157.0,236.4 L158.6,239.4 L160.3,242.3 L161.9,245.2 L163.5,248.1 L165.1,251.1 L166.7,254.1 L168.3,257.0 L169.9,259.9 L171.5,262.6 L173.1,265.1 L174.7,267.4 L176.3,269.4 L177.8,271.2 L179.4,273.0 L181.0,274.6 L182.5,276.2 L184.1,277.9 L185.6,279.5 L187.1,281.2 L188.6,282.8 L190.1,284.5 L191.6,286.1 L193.1,287.7 L194.6,289.3 L196.1,290.9 L197.6,292.5 L199.1,294.0 L200.6,295.6 L202.1,297.1 L203.6,298.6 L205.1,300.0 L206.7,301.6 L208.2,303.3 L209.8,305.0 L211.3,306.8 L212.9,308.6 L214.4,310.3 L216.0,311.9 L217.6,313.3 L219.1,314.5 L220.7,315.4 L222.2,316.0 L223.8,316.2 L665.0,316.0" fill="none" stroke="#f87020" stroke-width="1.15" stroke-linejoin="round"/><polygon transform="translate(127.00,159.30)" points="7.15,0.00 6.67,1.33 5.96,2.47 5.65,3.78 5.06,5.06 3.78,5.65 2.47,5.96 1.33,6.67 0.00,7.15 -1.33,6.67 -2.47,5.96 -3.78,5.65 -5.06,5.06 -5.65,3.78 -5.96,2.47 -6.67,1.33 -7.15,0.00 -6.67,-1.33 -5.96,-2.47 -5.65,-3.78 -5.06,-5.06 -3.78,-5.65 -2.47,-5.96 -1.33,-6.67 -0.00,-7.15 1.33,-6.67 2.47,-5.96 3.78,-5.65 5.06,-5.06 5.65,-3.78 5.96,-2.47 6.67,-1.33" fill="#f06a1a"/><polygon transform="translate(184.10,277.90)" points="7.15,0.00 6.67,1.33 5.96,2.47 5.65,3.78 5.06,5.06 3.78,5.65 2.47,5.96 1.33,6.67 0.00,7.15 -1.33,6.67 -2.47,5.96 -3.78,5.65 -5.06,5.06 -5.65,3.78 -5.96,2.47 -6.67,1.33 -7.15,0.00 -6.67,-1.33 -5.96,-2.47 -5.65,-3.78 -5.06,-5.06 -3.78,-5.65 -2.47,-5.96 -1.33,-6.67 -0.00,-7.15 1.33,-6.67 2.47,-5.96 3.78,-5.65 5.06,-5.06 5.65,-3.78 5.96,-2.47 6.67,-1.33" fill="#f06a1a"/><polygon transform="translate(240.20,315.50)" points="7.15,0.00 6.67,1.33 5.96,2.47 5.65,3.78 5.06,5.06 3.78,5.65 2.47,5.96 1.33,6.67 0.00,7.15 -1.33,6.67 -2.47,5.96 -3.78,5.65 -5.06,5.06 -5.65,3.78 -5.96,2.47 -6.67,1.33 -7.15,0.00 -6.67,-1.33 -5.96,-2.47 -5.65,-3.78 -5.06,-5.06 -3.78,-5.65 -2.47,-5.96 -1.33,-6.67 -0.00,-7.15 1.33,-6.67 2.47,-5.96 3.78,-5.65 5.06,-5.06 5.65,-3.78 5.96,-2.47 6.67,-1.33" fill="#f06a1a"/><polygon transform="translate(296.30,315.50)" points="7.15,0.00 6.67,1.33 5.96,2.47 5.65,3.78 5.06,5.06 3.78,5.65 2.47,5.96 1.33,6.67 0.00,7.15 -1.33,6.67 -2.47,5.96 -3.78,5.65 -5.06,5.06 -5.65,3.78 -5.96,2.47 -6.67,1.33 -7.15,0.00 -6.67,-1.33 -5.96,-2.47 -5.65,-3.78 -5.06,-5.06 -3.78,-5.65 -2.47,-5.96 -1.33,-6.67 -0.00,-7.15 1.33,-6.67 2.47,-5.96 3.78,-5.65 5.06,-5.06 5.65,-3.78 5.96,-2.47 6.67,-1.33" fill="#f06a1a"/><polygon transform="translate(352.80,315.50)" points="7.15,0.00 6.67,1.33 5.96,2.47 5.65,3.78 5.06,5.06 3.78,5.65 2.47,5.96 1.33,6.67 0.00,7.15 -1.33,6.67 -2.47,5.96 -3.78,5.65 -5.06,5.06 -5.65,3.78 -5.96,2.47 -6.67,1.33 -7.15,0.00 -6.67,-1.33 -5.96,-2.47 -5.65,-3.78 -5.06,-5.06 -3.78,-5.65 -2.47,-5.96 -1.33,-6.67 -0.00,-7.15 1.33,-6.67 2.47,-5.96 3.78,-5.65 5.06,-5.06 5.65,-3.78 5.96,-2.47 6.67,-1.33" fill="#f06a1a"/><polygon transform="translate(409.90,315.50)" points="7.15,0.00 6.67,1.33 5.96,2.47 5.65,3.78 5.06,5.06 3.78,5.65 2.47,5.96 1.33,6.67 0.00,7.15 -1.33,6.67 -2.47,5.96 -3.78,5.65 -5.06,5.06 -5.65,3.78 -5.96,2.47 -6.67,1.33 -7.15,0.00 -6.67,-1.33 -5.96,-2.47 -5.65,-3.78 -5.06,-5.06 -3.78,-5.65 -2.47,-5.96 -1.33,-6.67 -0.00,-7.15 1.33,-6.67 2.47,-5.96 3.78,-5.65 5.06,-5.06 5.65,-3.78 5.96,-2.47 6.67,-1.33" fill="#f06a1a"/><polygon transform="translate(466.20,315.50)" points="7.15,0.00 6.67,1.33 5.96,2.47 5.65,3.78 5.06,5.06 3.78,5.65 2.47,5.96 1.33,6.67 0.00,7.15 -1.33,6.67 -2.47,5.96 -3.78,5.65 -5.06,5.06 -5.65,3.78 -5.96,2.47 -6.67,1.33 -7.15,0.00 -6.67,-1.33 -5.96,-2.47 -5.65,-3.78 -5.06,-5.06 -3.78,-5.65 -2.47,-5.96 -1.33,-6.67 -0.00,-7.15 1.33,-6.67 2.47,-5.96 3.78,-5.65 5.06,-5.06 5.65,-3.78 5.96,-2.47 6.67,-1.33" fill="#f06a1a"/><polygon transform="translate(523.00,315.50)" points="7.15,0.00 6.67,1.33 5.96,2.47 5.65,3.78 5.06,5.06 3.78,5.65 2.47,5.96 1.33,6.67 0.00,7.15 -1.33,6.67 -2.47,5.96 -3.78,5.65 -5.06,5.06 -5.65,3.78 -5.96,2.47 -6.67,1.33 -7.15,0.00 -6.67,-1.33 -5.96,-2.47 -5.65,-3.78 -5.06,-5.06 -3.78,-5.65 -2.47,-5.96 -1.33,-6.67 -0.00,-7.15 1.33,-6.67 2.47,-5.96 3.78,-5.65 5.06,-5.06 5.65,-3.78 5.96,-2.47 6.67,-1.33" fill="#f06a1a"/><polygon transform="translate(579.30,315.50)" points="7.15,0.00 6.67,1.33 5.96,2.47 5.65,3.78 5.06,5.06 3.78,5.65 2.47,5.96 1.33,6.67 0.00,7.15 -1.33,6.67 -2.47,5.96 -3.78,5.65 -5.06,5.06 -5.65,3.78 -5.96,2.47 -6.67,1.33 -7.15,0.00 -6.67,-1.33 -5.96,-2.47 -5.65,-3.78 -5.06,-5.06 -3.78,-5.65 -2.47,-5.96 -1.33,-6.67 -0.00,-7.15 1.33,-6.67 2.47,-5.96 3.78,-5.65 5.06,-5.06 5.65,-3.78 5.96,-2.47 6.67,-1.33" fill="#f06a1a"/><polygon transform="translate(636.10,315.50)" points="7.15,0.00 6.67,1.33 5.96,2.47 5.65,3.78 5.06,5.06 3.78,5.65 2.47,5.96 1.33,6.67 0.00,7.15 -1.33,6.67 -2.47,5.96 -3.78,5.65 -5.06,5.06 -5.65,3.78 -5.96,2.47 -6.67,1.33 -7.15,0.00 -6.67,-1.33 -5.96,-2.47 -5.65,-3.78 -5.06,-5.06 -3.78,-5.65 -2.47,-5.96 -1.33,-6.67 -0.00,-7.15 1.33,-6.67 2.47,-5.96 3.78,-5.65 5.06,-5.06 5.65,-3.78 5.96,-2.47 6.67,-1.33" fill="#f06a1a"/><path d="M100.3,19.8 L101.8,23.4 L103.4,27.2 L104.9,31.1 L106.4,35.0 L108.0,39.1 L109.5,43.1 L111.0,47.2 L112.6,51.3 L114.1,55.4 L115.6,59.4 L117.2,63.4 L118.7,67.4 L120.2,71.2 L121.7,74.9 L123.3,78.5 L124.8,82.0 L126.3,85.3 L127.9,88.4 L129.4,91.3 L130.9,94.0 L132.5,96.2 L134.0,98.4 L135.5,100.6 L137.1,101.9 L138.6,103.9 L140.2,105.5 L141.7,106.9 L143.2,108.0 L144.8,109.4 L146.3,110.8 L147.9,112.3 L149.4,114.0 L151.0,115.2 L152.5,116.4 L154.1,118.1 L155.6,119.2 L157.2,120.6 L158.7,121.9 L160.3,122.7 L161.9,124.4 L163.4,125.5 L165.0,126.5 L166.6,127.7 L168.2,128.7 L169.7,129.6 L171.3,130.9 L172.9,131.5 L174.4,132.7 L176.0,133.7 L177.6,134.4 L179.1,135.3 L180.7,136.3 L182.2,137.1 L183.8,137.4 L185.3,138.4 L186.9,138.9 L188.4,139.1 L190.0,139.6 L191.6,139.8 L193.1,140.0 L194.7,140.6 L196.2,141.1 L197.8,140.9 L199.3,141.5 L200.9,141.5 L202.4,141.2 L204.0,141.7 L205.6,141.4 L207.1,141.3 L208.7,140.8 L210.3,140.2 L211.8,139.3 L213.4,138.9 L215.0,138.4 L216.5,137.8 L218.1,137.1 L219.6,136.8 L221.2,136.3 L222.7,135.6 L224.2,135.1 L225.8,134.8 L227.3,134.6 L228.9,134.4 L230.4,134.5 L665.0,134.7" fill="none" stroke="#f87020" stroke-width="1.15" stroke-linejoin="round"/><rect x="121.10" y="84.30" width="13.8" height="13.3" fill="none" stroke="#f06a1a" stroke-width="1.3" stroke-linejoin="round"/><rect x="177.90" y="130.80" width="13.8" height="13.3" fill="none" stroke="#f06a1a" stroke-width="1.3" stroke-linejoin="round"/><rect x="234.00" y="127.90" width="13.8" height="13.3" fill="none" stroke="#f06a1a" stroke-width="1.3" stroke-linejoin="round"/><rect x="289.70" y="128.60" width="13.8" height="13.3" fill="none" stroke="#f06a1a" stroke-width="1.3" stroke-linejoin="round"/><rect x="346.30" y="128.40" width="13.8" height="13.3" fill="none" stroke="#f06a1a" stroke-width="1.3" stroke-linejoin="round"/><rect x="401.80" y="128.40" width="13.8" height="13.3" fill="none" stroke="#f06a1a" stroke-width="1.3" stroke-linejoin="round"/><rect x="459.80" y="128.40" width="13.8" height="13.3" fill="none" stroke="#f06a1a" stroke-width="1.3" stroke-linejoin="round"/><rect x="516.40" y="128.40" width="13.8" height="13.3" fill="none" stroke="#f06a1a" stroke-width="1.3" stroke-linejoin="round"/><rect x="573.10" y="128.40" width="13.8" height="13.3" fill="none" stroke="#f06a1a" stroke-width="1.3" stroke-linejoin="round"/><rect x="629.50" y="128.40" width="13.8" height="13.3" fill="none" stroke="#f06a1a" stroke-width="1.3" stroke-linejoin="round"/></g>
<g><rect x="100" y="10.98" width="565" height="563.37" fill="none" stroke="#222" stroke-width="1.7"/><line x1="213.0" y1="574.35" x2="213.0" y2="560.85" stroke="#222" stroke-width="1.6"/><line x1="213.0" y1="10.98" x2="213.0" y2="24.48" stroke="#222" stroke-width="1.6"/><line x1="325.2" y1="574.35" x2="325.2" y2="560.85" stroke="#222" stroke-width="1.6"/><line x1="325.2" y1="10.98" x2="325.2" y2="24.48" stroke="#222" stroke-width="1.6"/><line x1="437.3" y1="574.35" x2="437.3" y2="560.85" stroke="#222" stroke-width="1.6"/><line x1="437.3" y1="10.98" x2="437.3" y2="24.48" stroke="#222" stroke-width="1.6"/><line x1="551.9" y1="574.35" x2="551.9" y2="560.85" stroke="#222" stroke-width="1.6"/><line x1="551.9" y1="10.98" x2="551.9" y2="24.48" stroke="#222" stroke-width="1.6"/><line x1="100" y1="124.05" x2="113.2" y2="124.05" stroke="#222" stroke-width="1.6"/><line x1="665" y1="124.05" x2="651.8" y2="124.05" stroke="#222" stroke-width="1.6"/><line x1="100" y1="237.30" x2="113.2" y2="237.30" stroke="#222" stroke-width="1.6"/><line x1="665" y1="237.30" x2="651.8" y2="237.30" stroke="#222" stroke-width="1.6"/><line x1="100" y1="349.30" x2="113.2" y2="349.30" stroke="#222" stroke-width="1.6"/><line x1="665" y1="349.30" x2="651.8" y2="349.30" stroke="#222" stroke-width="1.6"/><line x1="100" y1="461.40" x2="113.2" y2="461.40" stroke="#222" stroke-width="1.6"/><line x1="665" y1="461.40" x2="651.8" y2="461.40" stroke="#222" stroke-width="1.6"/></g>
<g><polygon points="641,390 649,398 649,552.6 136.6,552.6 128.6,544.6 641,544.6" fill="#000"/><rect x="129.8" y="391.2" width="513.4" height="155.4" fill="#fff" stroke="#000" stroke-width="2.6"/><line x1="147.4" y1="415.5" x2="225" y2="415.5" stroke="#f00000" stroke-width="1.2"/><polygon transform="translate(187.00,415.50)" points="7.15,0.00 6.67,1.33 5.96,2.47 5.65,3.78 5.06,5.06 3.78,5.65 2.47,5.96 1.33,6.67 0.00,7.15 -1.33,6.67 -2.47,5.96 -3.78,5.65 -5.06,5.06 -5.65,3.78 -5.96,2.47 -6.67,1.33 -7.15,0.00 -6.67,-1.33 -5.96,-2.47 -5.65,-3.78 -5.06,-5.06 -3.78,-5.65 -2.47,-5.96 -1.33,-6.67 -0.00,-7.15 1.33,-6.67 2.47,-5.96 3.78,-5.65 5.06,-5.06 5.65,-3.78 5.96,-2.47 6.67,-1.33" fill="#dc0000"/><text transform="translate(234.8,420.6) scale(1,1.17)" font-size="17" letter-spacing="0.75" fill="#dc0000" stroke="#dc0000" stroke-width="0.18">9:1 train model</text><line x1="147.4" y1="443.6" x2="225" y2="443.6" stroke="#f00000" stroke-width="1.2"/><rect x="180.10" y="437.30" width="13.8" height="13.3" fill="none" stroke="#dc0000" stroke-width="1.3" stroke-linejoin="round"/><text transform="translate(234.8,448.1) scale(1,1.17)" font-size="17" letter-spacing="0.75" fill="#dc0000" stroke="#dc0000" stroke-width="0.18">9:1 test model</text><line x1="147.4" y1="470.7" x2="225" y2="470.7" stroke="#0000f5" stroke-width="1.2"/><polygon transform="translate(187.00,470.70)" points="7.15,0.00 6.67,1.33 5.96,2.47 5.65,3.78 5.06,5.06 3.78,5.65 2.47,5.96 1.33,6.67 0.00,7.15 -1.33,6.67 -2.47,5.96 -3.78,5.65 -5.06,5.06 -5.65,3.78 -5.96,2.47 -6.67,1.33 -7.15,0.00 -6.67,-1.33 -5.96,-2.47 -5.65,-3.78 -5.06,-5.06 -3.78,-5.65 -2.47,-5.96 -1.33,-6.67 -0.00,-7.15 1.33,-6.67 2.47,-5.96 3.78,-5.65 5.06,-5.06 5.65,-3.78 5.96,-2.47 6.67,-1.33" fill="#0000e6"/><text transform="translate(234.8,475.3) scale(1,1.17)" font-size="17" letter-spacing="0.75" fill="#0000e6" stroke="#0000e6" stroke-width="0.18">8:2 train model</text><line x1="147.4" y1="497.8" x2="225" y2="497.8" stroke="#0000f5" stroke-width="1.2"/><rect x="180.10" y="491.50" width="13.8" height="13.3" fill="none" stroke="#0000e6" stroke-width="1.3" stroke-linejoin="round"/><text transform="translate(234.8,502.5) scale(1,1.17)" font-size="17" letter-spacing="0.75" fill="#0000e6" stroke="#0000e6" stroke-width="0.18">8:2 test model</text><line x1="147.4" y1="524.9" x2="225" y2="524.9" stroke="#0a7a2a" stroke-width="1.2"/><polygon transform="translate(187.00,524.90)" points="7.15,0.00 6.67,1.33 5.96,2.47 5.65,3.78 5.06,5.06 3.78,5.65 2.47,5.96 1.33,6.67 0.00,7.15 -1.33,6.67 -2.47,5.96 -3.78,5.65 -5.06,5.06 -5.65,3.78 -5.96,2.47 -6.67,1.33 -7.15,0.00 -6.67,-1.33 -5.96,-2.47 -5.65,-3.78 -5.06,-5.06 -3.78,-5.65 -2.47,-5.96 -1.33,-6.67 -0.00,-7.15 1.33,-6.67 2.47,-5.96 3.78,-5.65 5.06,-5.06 5.65,-3.78 5.96,-2.47 6.67,-1.33" fill="#006418"/><text transform="translate(234.8,530.0) scale(1,1.17)" font-size="17" letter-spacing="0.75" fill="#006418" stroke="#006418" stroke-width="0.18">7:3 train model</text><line x1="420.3" y1="415.5" x2="498" y2="415.5" stroke="#0a7a2a" stroke-width="1.2"/><rect x="452.70" y="409.20" width="13.8" height="13.3" fill="none" stroke="#006418" stroke-width="1.3" stroke-linejoin="round"/><text transform="translate(507.4,420.6) scale(1,1.17)" font-size="17" letter-spacing="0.75" fill="#006418" stroke="#006418" stroke-width="0.18">7:3 test model</text><line x1="420.3" y1="443.6" x2="498" y2="443.6" stroke="#000000" stroke-width="1.2"/><polygon transform="translate(459.60,443.60)" points="7.15,0.00 6.67,1.33 5.96,2.47 5.65,3.78 5.06,5.06 3.78,5.65 2.47,5.96 1.33,6.67 0.00,7.15 -1.33,6.67 -2.47,5.96 -3.78,5.65 -5.06,5.06 -5.65,3.78 -5.96,2.47 -6.67,1.33 -7.15,0.00 -6.67,-1.33 -5.96,-2.47 -5.65,-3.78 -5.06,-5.06 -3.78,-5.65 -2.47,-5.96 -1.33,-6.67 -0.00,-7.15 1.33,-6.67 2.47,-5.96 3.78,-5.65 5.06,-5.06 5.65,-3.78 5.96,-2.47 6.67,-1.33" fill="#000000"/><text transform="translate(507.4,448.1) scale(1,1.17)" font-size="17" letter-spacing="0.75" fill="#000000" stroke="#000000" stroke-width="0.18">6:4 train model</text><line x1="420.3" y1="470.7" x2="498" y2="470.7" stroke="#000000" stroke-width="1.2"/><rect x="452.70" y="464.40" width="13.8" height="13.3" fill="none" stroke="#000000" stroke-width="1.3" stroke-linejoin="round"/><text transform="translate(507.4,475.3) scale(1,1.17)" font-size="17" letter-spacing="0.75" fill="#000000" stroke="#000000" stroke-width="0.18">6:4 test model</text><line x1="420.3" y1="497.8" x2="498" y2="497.8" stroke="#f87020" stroke-width="1.2"/><polygon transform="translate(459.60,497.80)" points="7.15,0.00 6.67,1.33 5.96,2.47 5.65,3.78 5.06,5.06 3.78,5.65 2.47,5.96 1.33,6.67 0.00,7.15 -1.33,6.67 -2.47,5.96 -3.78,5.65 -5.06,5.06 -5.65,3.78 -5.96,2.47 -6.67,1.33 -7.15,0.00 -6.67,-1.33 -5.96,-2.47 -5.65,-3.78 -5.06,-5.06 -3.78,-5.65 -2.47,-5.96 -1.33,-6.67 -0.00,-7.15 1.33,-6.67 2.47,-5.96 3.78,-5.65 5.06,-5.06 5.65,-3.78 5.96,-2.47 6.67,-1.33" fill="#f06a1a"/><text transform="translate(507.4,502.5) scale(1,1.17)" font-size="17" letter-spacing="0.75" fill="#f06a1a" stroke="#f06a1a" stroke-width="0.18">5:5 train model</text><line x1="420.3" y1="524.9" x2="498" y2="524.9" stroke="#f87020" stroke-width="1.2"/><rect x="452.70" y="518.60" width="13.8" height="13.3" fill="none" stroke="#f06a1a" stroke-width="1.3" stroke-linejoin="round"/><text transform="translate(507.4,530.0) scale(1,1.17)" font-size="17" letter-spacing="0.75" fill="#f06a1a" stroke="#f06a1a" stroke-width="0.18">5:5 test model</text></g>
<g fill="#000"><text transform="translate(84.4,15.98) scale(1,1.05)" text-anchor="end" font-size="22.5">0.7</text><text transform="translate(84.4,129.05) scale(1,1.05)" text-anchor="end" font-size="22.5">0.6</text><text transform="translate(84.4,242.30) scale(1,1.05)" text-anchor="end" font-size="22.5">0.5</text><text transform="translate(84.4,354.30) scale(1,1.05)" text-anchor="end" font-size="22.5">0.4</text><text transform="translate(84.4,466.40) scale(1,1.05)" text-anchor="end" font-size="22.5">0.3</text><text transform="translate(84.4,579.35) scale(1,1.05)" text-anchor="end" font-size="22.5">0.2</text><text transform="translate(99.9,606.0) scale(1,1.05)" text-anchor="middle" font-size="22.5">0</text><text transform="translate(213.0,606.0) scale(1,1.05)" text-anchor="middle" font-size="22.5">100</text><text transform="translate(325.2,606.0) scale(1,1.05)" text-anchor="middle" font-size="22.5">200</text><text transform="translate(437.3,606.0) scale(1,1.05)" text-anchor="middle" font-size="22.5">300</text><text transform="translate(551.9,606.0) scale(1,1.05)" text-anchor="middle" font-size="22.5">400</text><text transform="translate(665.0,606.0) scale(1,1.05)" text-anchor="middle" font-size="22.5">500</text><text transform="translate(380.3,650)" text-anchor="middle" font-size="27" letter-spacing="0.15">Estimators</text><text transform="translate(22,290.5) rotate(-90)" text-anchor="middle" font-size="27.3" letter-spacing="0.35">Logloss</text></g>
</svg>
</body></html>
